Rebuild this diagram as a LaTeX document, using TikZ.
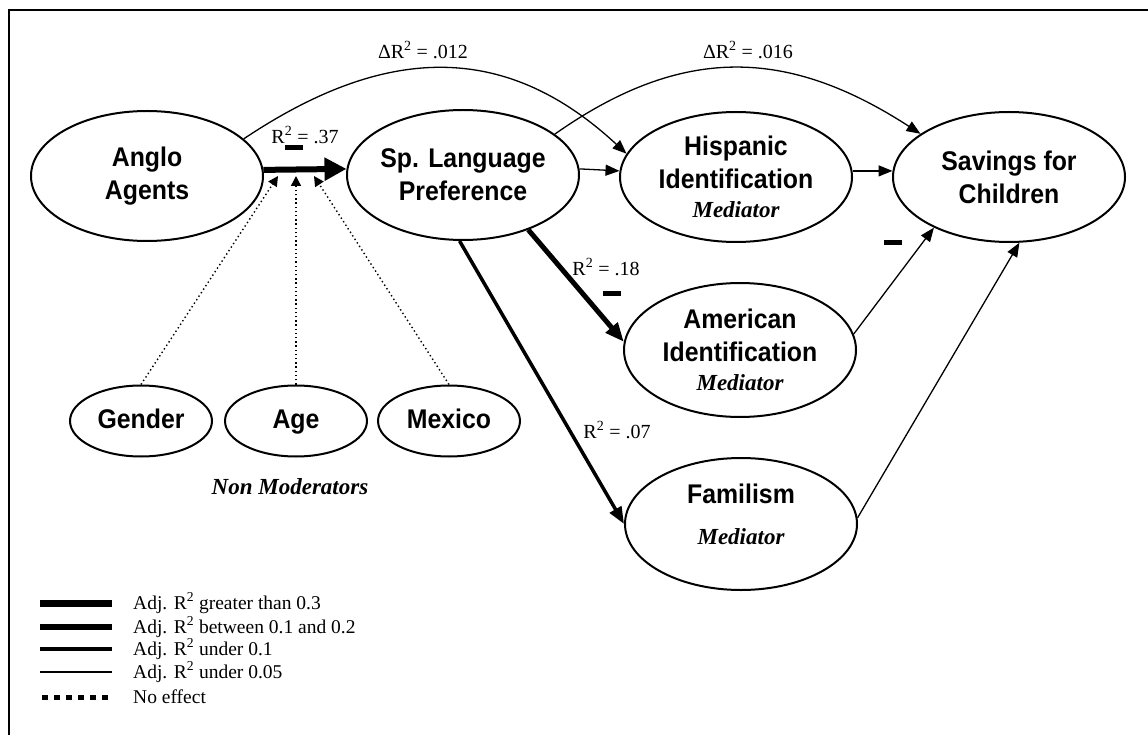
\documentclass[tikz,border=0pt]{standalone}
\usepackage{fontspec}
\setmainfont{Liberation Serif}
\newfontfamily\varfont[FakeStretch=0.92]{Liberation Sans}
\usetikzlibrary{shapes.geometric, arrows.meta}

\newcommand{\medfont}{\rmfamily\bfseries\itshape\fontsize{23}{26}\selectfont}

\begin{document}
\begin{tikzpicture}[
    x=1pt, y=-1pt,
    % Node styles
    construct/.style={ellipse, draw, line width=2pt, minimum width=232pt,
                      minimum height=130pt, inner sep=0pt},
    varname/.style={align=center, font=\varfont\bfseries\fontsize{27}{33}\selectfont},
    moderator/.style={ellipse, draw, line width=2pt, minimum width=142pt,
                      minimum height=71pt, text height=19pt, text depth=5pt,
                      font=\varfont\bfseries\fontsize{27}{30}\selectfont},
    rlabel/.style={font=\fontsize{20}{22}\selectfont, inner sep=0pt},
    negsign/.style={rectangle, fill=black, minimum width=18pt, minimum height=5pt, inner sep=0pt},
    legtext/.style={anchor=west, font=\fontsize{19.5}{22}\selectfont, inner sep=0pt},
    % Connector styles
    strong/.style={line width=6pt, -{Triangle[length=22pt,width=22pt]}},
    medium/.style={line width=5pt, -{Triangle[length=19pt,width=15pt]}},
    weak/.style={line width=3.5pt, -{Triangle[length=17pt,width=13pt]}},
    faint/.style={line width=1.3pt, -{Triangle[length=14pt,width=11pt]}},
    noeffect/.style={line width=1.4pt, dash pattern=on 1.4pt off 2.8pt,
                     -{Triangle[length=10pt,width=10pt]}}
]

% Frame
\useasboundingbox (0,0) rectangle (1148,735);
\draw[line width=2.5pt] (9,735) -- (9,10) -- (1148,10);

% Constructs
\node[construct, label={[varname]center:{Anglo\\Agents}}] (anglo) at (147,176) {};
\node[construct, label={[varname]center:{Sp. Language\\Preference}}] (span) at (463,175) {};
\node[construct, label={[varname]center:{Hispanic\\Identification\\[-4pt]{\medfont Mediator}}}] (hisp) at (736,177) {};
\node[construct, label={[varname]center:{Savings for\\Children}}] (sav) at (1009,177) {};
\node[construct, minimum height=134pt,
      label={[varname]center:{American\\Identification\\[-4pt]{\medfont Mediator}}}] (amer) at (740,350) {};
\node[construct, minimum height=132pt,
      label={[varname, yshift=10pt]center:{Familism\\[8pt]{\medfont Mediator}}}] (fam) at (741,524) {};

% Moderators
\node[moderator] (gender) at (141,421) {Gender};
\node[moderator] (age) at (296,421) {Age};
\node[moderator] (mexico) at (449,421) {Mexico};
\node[font=\medfont] (nonmod) at (290,487) {Non Moderators};

% Arrows
\draw[strong] (anglo.3) -- (span.177);
\coordinate (m1) at (278,176);
\coordinate (m2) at (296,176);
\coordinate (m3) at (314,176);
\draw[noeffect] (gender.north) -- (m1);
\draw[noeffect] (age.north) -- (m2);
\draw[noeffect] (mexico.north) -- (m3);

\draw[faint] (span.3) -- (hisp.177);
\draw[faint] (hisp.3) -- (sav.177);
\draw[medium] (span.-40) -- (amer.176);
\draw[weak] (span.-93) -- (fam.west);
\draw[faint] (amer.8) -- (sav.214);
\draw[faint] (fam.3) -- (sav.-81);

% Curved paths
\draw[faint] (anglo.21) .. controls (384,45) and (504,40) .. (hisp.168);
\draw[faint] (span.24) .. controls (683,44) and (788,48) .. (sav.154);

% Effect sizes
\node[rlabel] (d012) at (423,50) {ΔR\textsuperscript{2} = .012};
\node[rlabel] (d016) at (748,50) {ΔR\textsuperscript{2} = .016};
\node[rlabel] (r37) at (305,135) {R\textsuperscript{2} = .37};
\node[rlabel] (r18) at (606,267) {R\textsuperscript{2} = .18};
\node[rlabel] (r07) at (617,430) {R\textsuperscript{2} = .07};
\node[negsign] (neg1) at (294,148) {};
\node[negsign] (neg2) at (612,293) {};
\node[negsign] (neg3) at (893,243) {};

% Legend
\node[legtext] (leg1) at (133,603) {Adj. R\textsuperscript{2} greater than 0.3};
\node[legtext] (leg2) at (133,627) {Adj. R\textsuperscript{2} between 0.1 and 0.2};
\node[legtext] (leg3) at (133,649) {Adj. R\textsuperscript{2} under 0.1};
\node[legtext] (leg4) at (133,672) {Adj. R\textsuperscript{2} under 0.05};
\node[legtext] (leg5) at (133,697) {No effect};
\draw[line width=7pt] ([xshift=-93pt]leg1.west) -- ([xshift=-21pt]leg1.west);
\draw[line width=5.5pt] ([xshift=-93pt]leg2.west) -- ([xshift=-21pt]leg2.west);
\draw[line width=4.5pt] ([xshift=-93pt]leg3.west) -- ([xshift=-21pt]leg3.west);
\draw[line width=1.3pt] ([xshift=-93pt]leg4.west) -- ([xshift=-21pt]leg4.west);
\draw[line width=5pt, dash pattern=on 6pt off 6pt] ([xshift=-91pt]leg5.west) -- ([xshift=-21pt]leg5.west);

\end{tikzpicture}
\end{document}
